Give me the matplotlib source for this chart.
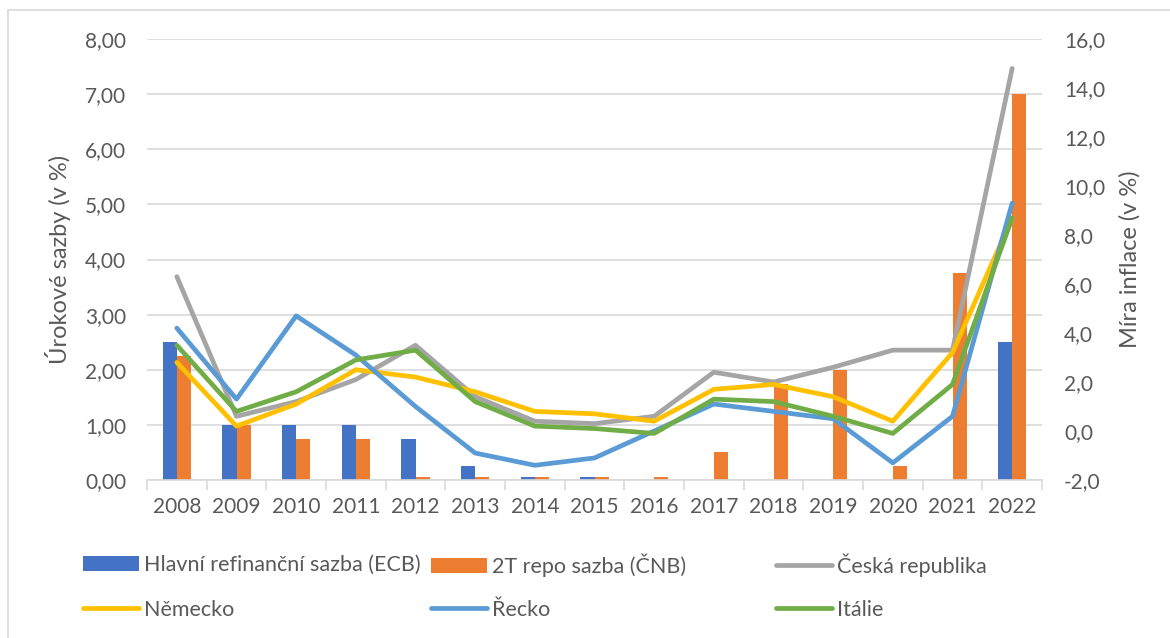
import matplotlib
matplotlib.use("Agg")
import matplotlib.pyplot as plt
from matplotlib.patches import Rectangle
from matplotlib.ticker import FuncFormatter, MultipleLocator
import numpy as np

# roky a data
roky = ["2008", "2009", "2010", "2011", "2012", "2013", "2014", "2015",
        "2016", "2017", "2018", "2019", "2020", "2021", "2022"]
ecb = [2.50, 1.00, 1.00, 1.00, 0.75, 0.25, 0.05, 0.05, 0.00, 0.00, 0.00, 0.00, 0.00, 0.00, 2.50]
cnb = [2.25, 1.00, 0.75, 0.75, 0.05, 0.05, 0.05, 0.05, 0.05, 0.50, 1.75, 2.00, 0.25, 3.75, 7.00]
cesko = [6.3, 0.6, 1.2, 2.1, 3.5, 1.4, 0.4, 0.3, 0.6, 2.4, 2.0, 2.6, 3.3, 3.3, 14.8]
nemecko = [2.8, 0.2, 1.1, 2.5, 2.2, 1.6, 0.8, 0.7, 0.4, 1.7, 1.9, 1.4, 0.4, 3.2, 8.7]
recko = [4.2, 1.3, 4.7, 3.1, 1.0, -0.9, -1.4, -1.1, 0.0, 1.1, 0.8, 0.5, -1.3, 0.6, 9.3]
italie = [3.5, 0.8, 1.6, 2.9, 3.3, 1.2, 0.2, 0.1, -0.1, 1.3, 1.2, 0.6, -0.1, 1.9, 8.7]

plt.rcParams['font.family'] = ['Lato', 'DejaVu Sans']
seda_text = "#595959"
mrizka = "#d9d9d9"

fig = plt.figure(figsize=(11.7, 6.38), dpi=100)
fig.patches.append(Rectangle((8 / 1170, -0.1), 1.2, 1 - 10 / 638 + 0.1, transform=fig.transFigure,
                             fill=False, edgecolor=mrizka, linewidth=1.2))

ax = fig.add_axes([147 / 1170, 1 - 480 / 638, (1042 - 147) / 1170, (480 - 39) / 638])
x = np.arange(len(roky))
w = 0.235
ax.bar(x - w / 2, ecb, w, color="#4472C4", label="Hlavní refinanční sazba (ECB)", zorder=2)
ax.bar(x + w / 2, cnb, w, color="#ED7D31", label="2T repo sazba (ČNB)", zorder=2)
ax.set_xlim(-0.5, len(roky) - 0.5)
ax.set_ylim(0, 8)
ax.yaxis.set_major_locator(MultipleLocator(1))
ax.yaxis.set_major_formatter(FuncFormatter(lambda v, p: f"{v:.2f}".replace(".", ",")))
ax.grid(axis="y", color=mrizka, linewidth=1.2, zorder=0)
ax.set_axisbelow(True)
for s in ["top", "left", "right"]:
    ax.spines[s].set_visible(False)
ax.spines["bottom"].set_color(mrizka)
ax.spines["bottom"].set_linewidth(1.2)
ax.set_xticks(x)
ax.set_xticklabels(roky)
ax.set_xticks(np.arange(-0.5, len(roky), 1), minor=True)
ax.tick_params(axis="x", which="major", length=0, pad=12, labelsize=15, labelcolor=seda_text)
ax.tick_params(axis="x", which="minor", length=7, width=1.2, color=mrizka)
ax.tick_params(axis="y", length=0, pad=15, labelsize=15, labelcolor=seda_text)
ax.set_ylabel("Úrokové sazby (v %)", fontsize=17, color=seda_text, labelpad=10)

ax2 = ax.twinx()
car = dict(linewidth=3.4, solid_capstyle="round", solid_joinstyle="round")
ax2.plot(x, cesko, color="#A5A5A5", label="Česká republika", **car)
ax2.plot(x, nemecko, color="#FFC000", label="Německo", **car)
ax2.plot(x, recko, color="#5B9BD5", label="Řecko", **car)
ax2.plot(x, italie, color="#70AD47", label="Itálie", **car)
ax2.set_ylim(-2, 16)
ax2.yaxis.set_major_locator(MultipleLocator(2))
ax2.yaxis.set_major_formatter(FuncFormatter(lambda v, p: f"{v:.1f}".replace(".", ",")))
for s in ["top", "left", "right", "bottom"]:
    ax2.spines[s].set_visible(False)
ax2.tick_params(axis="y", length=0, pad=16, labelsize=15, labelcolor=seda_text)
ax2.set_ylabel("Míra inflace (v %)", fontsize=17, color=seda_text, labelpad=10)

# legenda - kazda polozka zvlast, at radky sedi
h1, l1 = ax.get_legend_handles_labels()
h2, l2 = ax2.get_legend_handles_labels()
polozky = [(h1[0], l1[0], 83, 565), (h1[1], l1[1], 431, 565), (h2[0], l2[0], 776, 565),
           (h2[1], l2[1], 83, 610), (h2[2], l2[2], 431, 610), (h2[3], l2[3], 776, 610)]
for h, l, px, py in polozky:
    fig.legend([h], [l], loc="center left", bbox_to_anchor=(px / 1170, 1 - py / 638),
               frameon=False, fontsize=15.5, labelcolor=seda_text, handlelength=2.6,
               handletextpad=0.25, borderaxespad=0, borderpad=0)

fig.savefig("out.png", dpi=100)
